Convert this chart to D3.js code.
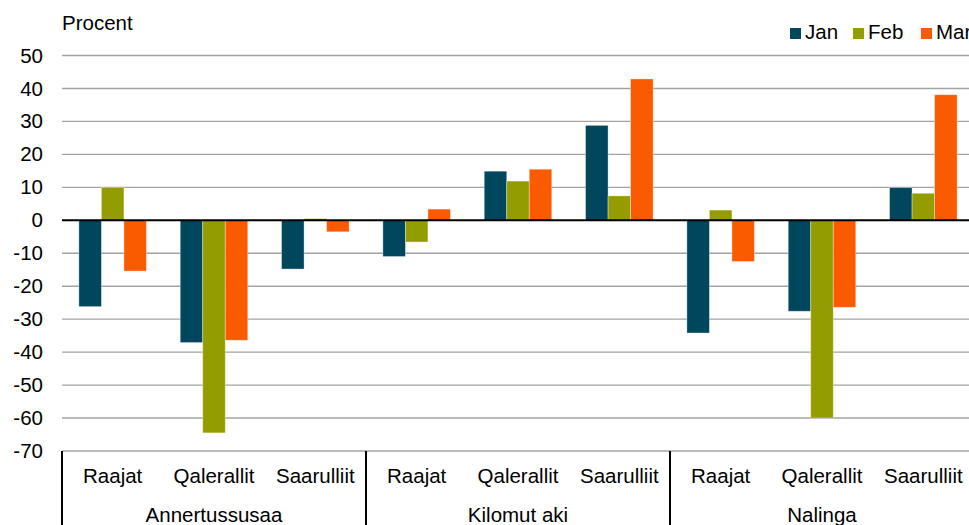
<!DOCTYPE html>
<html>
<head>
<meta charset="utf-8">
<script src="https://cdn.jsdelivr.net/npm/d3@7"></script>
<style>
  html, body { margin: 0; padding: 0; background: #fff; }
  text { font-family: "Liberation Sans", Arial, sans-serif; fill: #000; }
</style>
</head>
<body>
<script>
// Data
const groups = ['Annertussusaa', 'Kilomut aki', 'Nalinga'];
const categories = ['Raajat', 'Qalerallit', 'Saarulliit'];
const seriesNames = ['Jan', 'Feb', 'Mar'];
const colors = ['#00465c', '#939c00', '#fa5a00'];

// values per group, per category: [Jan, Feb, Mar]
const annertussusaa = [[-26.2, 10, -15.4], [-37.1, -64.5, -36.4], [-14.8, 0.5, -3.5]];
const kilomutAki = [[-11, -6.6, 3.4], [14.9, 11.9, 15.5], [28.8, 7.4, 42.9]];
const nalinga = [[-34.2, 3.1, -12.5], [-27.6, -60, -26.4], [9.9, 8.2, 38.1]];
const groupValues = [annertussusaa, kilomutAki, nalinga];

const yTicks = [50, 40, 30, 20, 10, 0, -10, -20, -30, -40, -50, -60, -70];

const width = 969, height = 525;
const plotLeft = 62, plotRight = 974, plotTop = 55.5, plotBottom = 451;
const fontSize = '20.5px';

const svg = d3.select('body').append('svg')
    .attr('width', width)
    .attr('height', height)
    .attr('viewBox', `0 0 ${width} ${height}`);

const x0 = d3.scaleBand().domain(groups).range([plotLeft, plotRight]);
const x1 = d3.scaleBand().domain(categories).range([0, x0.bandwidth()]);
const x2 = d3.scaleBand().domain(seriesNames)
    .range([0, x1.bandwidth()])
    .paddingInner(0)
    .paddingOuter(0.75);

const y = d3.scaleLinear().domain([-70, 50]).range([plotBottom, plotTop]);

// Gridlines
svg.append('g')
    .selectAll('line')
    .data(yTicks.filter(d => d !== 0 && d !== -70))
    .join('line')
    .attr('x1', plotLeft)
    .attr('x2', plotRight)
    .attr('y1', d => y(d))
    .attr('y2', d => y(d))
    .attr('stroke', '#a3a3a3')
    .attr('stroke-width', 1.4);

// Y axis labels (plain hyphen for negatives, as in the original)
const yAxis = svg.append('g')
    .attr('transform', `translate(${plotLeft - 19},0)`)
    .call(d3.axisLeft(y).tickValues(yTicks).tickSize(0).tickPadding(0).tickFormat(d => String(d)));
yAxis.select('.domain').remove();
yAxis.attr('font-size', null).attr('font-family', null);
yAxis.selectAll('text')
    .style('font-size', fontSize)
    .attr('fill', '#000');

svg.append('text')
    .attr('x', plotLeft)
    .attr('y', 30)
    .style('font-size', fontSize)
    .text('Procent');

// Bars
const barData = [];
groups.forEach((g, gi) => {
    categories.forEach((c, ci) => {
        seriesNames.forEach((s, si) => {
            barData.push({ g, c, s, si, v: groupValues[gi][ci][si] });
        });
    });
});

svg.append('g')
    .selectAll('rect')
    .data(barData)
    .join('rect')
    .attr('x', d => x0(d.g) + x1(d.c) + x2(d.s))
    .attr('width', x2.bandwidth())
    .attr('y', d => y(Math.max(0, d.v)))
    .attr('height', d => Math.abs(y(d.v) - y(0)))
    .attr('fill', d => colors[d.si])
    .attr('stroke', 'rgba(255,255,255,0.45)')
    .attr('stroke-width', 0.8);

// Zero line
svg.append('line')
    .attr('x1', plotLeft)
    .attr('x2', plotRight)
    .attr('y1', y(0))
    .attr('y2', y(0))
    .attr('stroke', '#000')
    .attr('stroke-width', 2);

// Bottom axis line
svg.append('line')
    .attr('x1', plotLeft)
    .attr('x2', plotRight)
    .attr('y1', plotBottom)
    .attr('y2', plotBottom)
    .attr('stroke', '#a3a3a3')
    .attr('stroke-width', 1.4);

// Group separators
svg.append('g')
    .selectAll('line')
    .data(groups.concat(['end']))
    .join('line')
    .attr('x1', (d, i) => plotLeft + i * x0.bandwidth())
    .attr('x2', (d, i) => plotLeft + i * x0.bandwidth())
    .attr('y1', plotBottom)
    .attr('y2', height)
    .attr('stroke', '#000')
    .attr('stroke-width', 2);

// Category labels
const catLabels = [];
groups.forEach(g => categories.forEach(c => catLabels.push({ g, c })));
svg.append('g')
    .selectAll('text')
    .data(catLabels)
    .join('text')
    .attr('x', d => x0(d.g) + x1(d.c) + x1.bandwidth() / 2)
    .attr('y', 483)
    .attr('text-anchor', 'middle')
    .style('font-size', fontSize)
    .text(d => d.c);

// Group labels
svg.append('g')
    .selectAll('text')
    .data(groups)
    .join('text')
    .attr('x', d => x0(d) + x0.bandwidth() / 2)
    .attr('y', 522)
    .attr('text-anchor', 'middle')
    .style('font-size', fontSize)
    .text(d => d);

// Legend
const legendX = [790, 853, 921];
const legend = svg.append('g')
    .selectAll('g')
    .data(seriesNames)
    .join('g')
    .attr('transform', (d, i) => `translate(${legendX[i]},28)`);
legend.append('rect')
    .attr('width', 11)
    .attr('height', 11)
    .attr('fill', (d, i) => colors[i]);
legend.append('text')
    .attr('x', 15)
    .attr('y', 11)
    .style('font-size', fontSize)
    .text(d => d);
</script>
</body>
</html>
